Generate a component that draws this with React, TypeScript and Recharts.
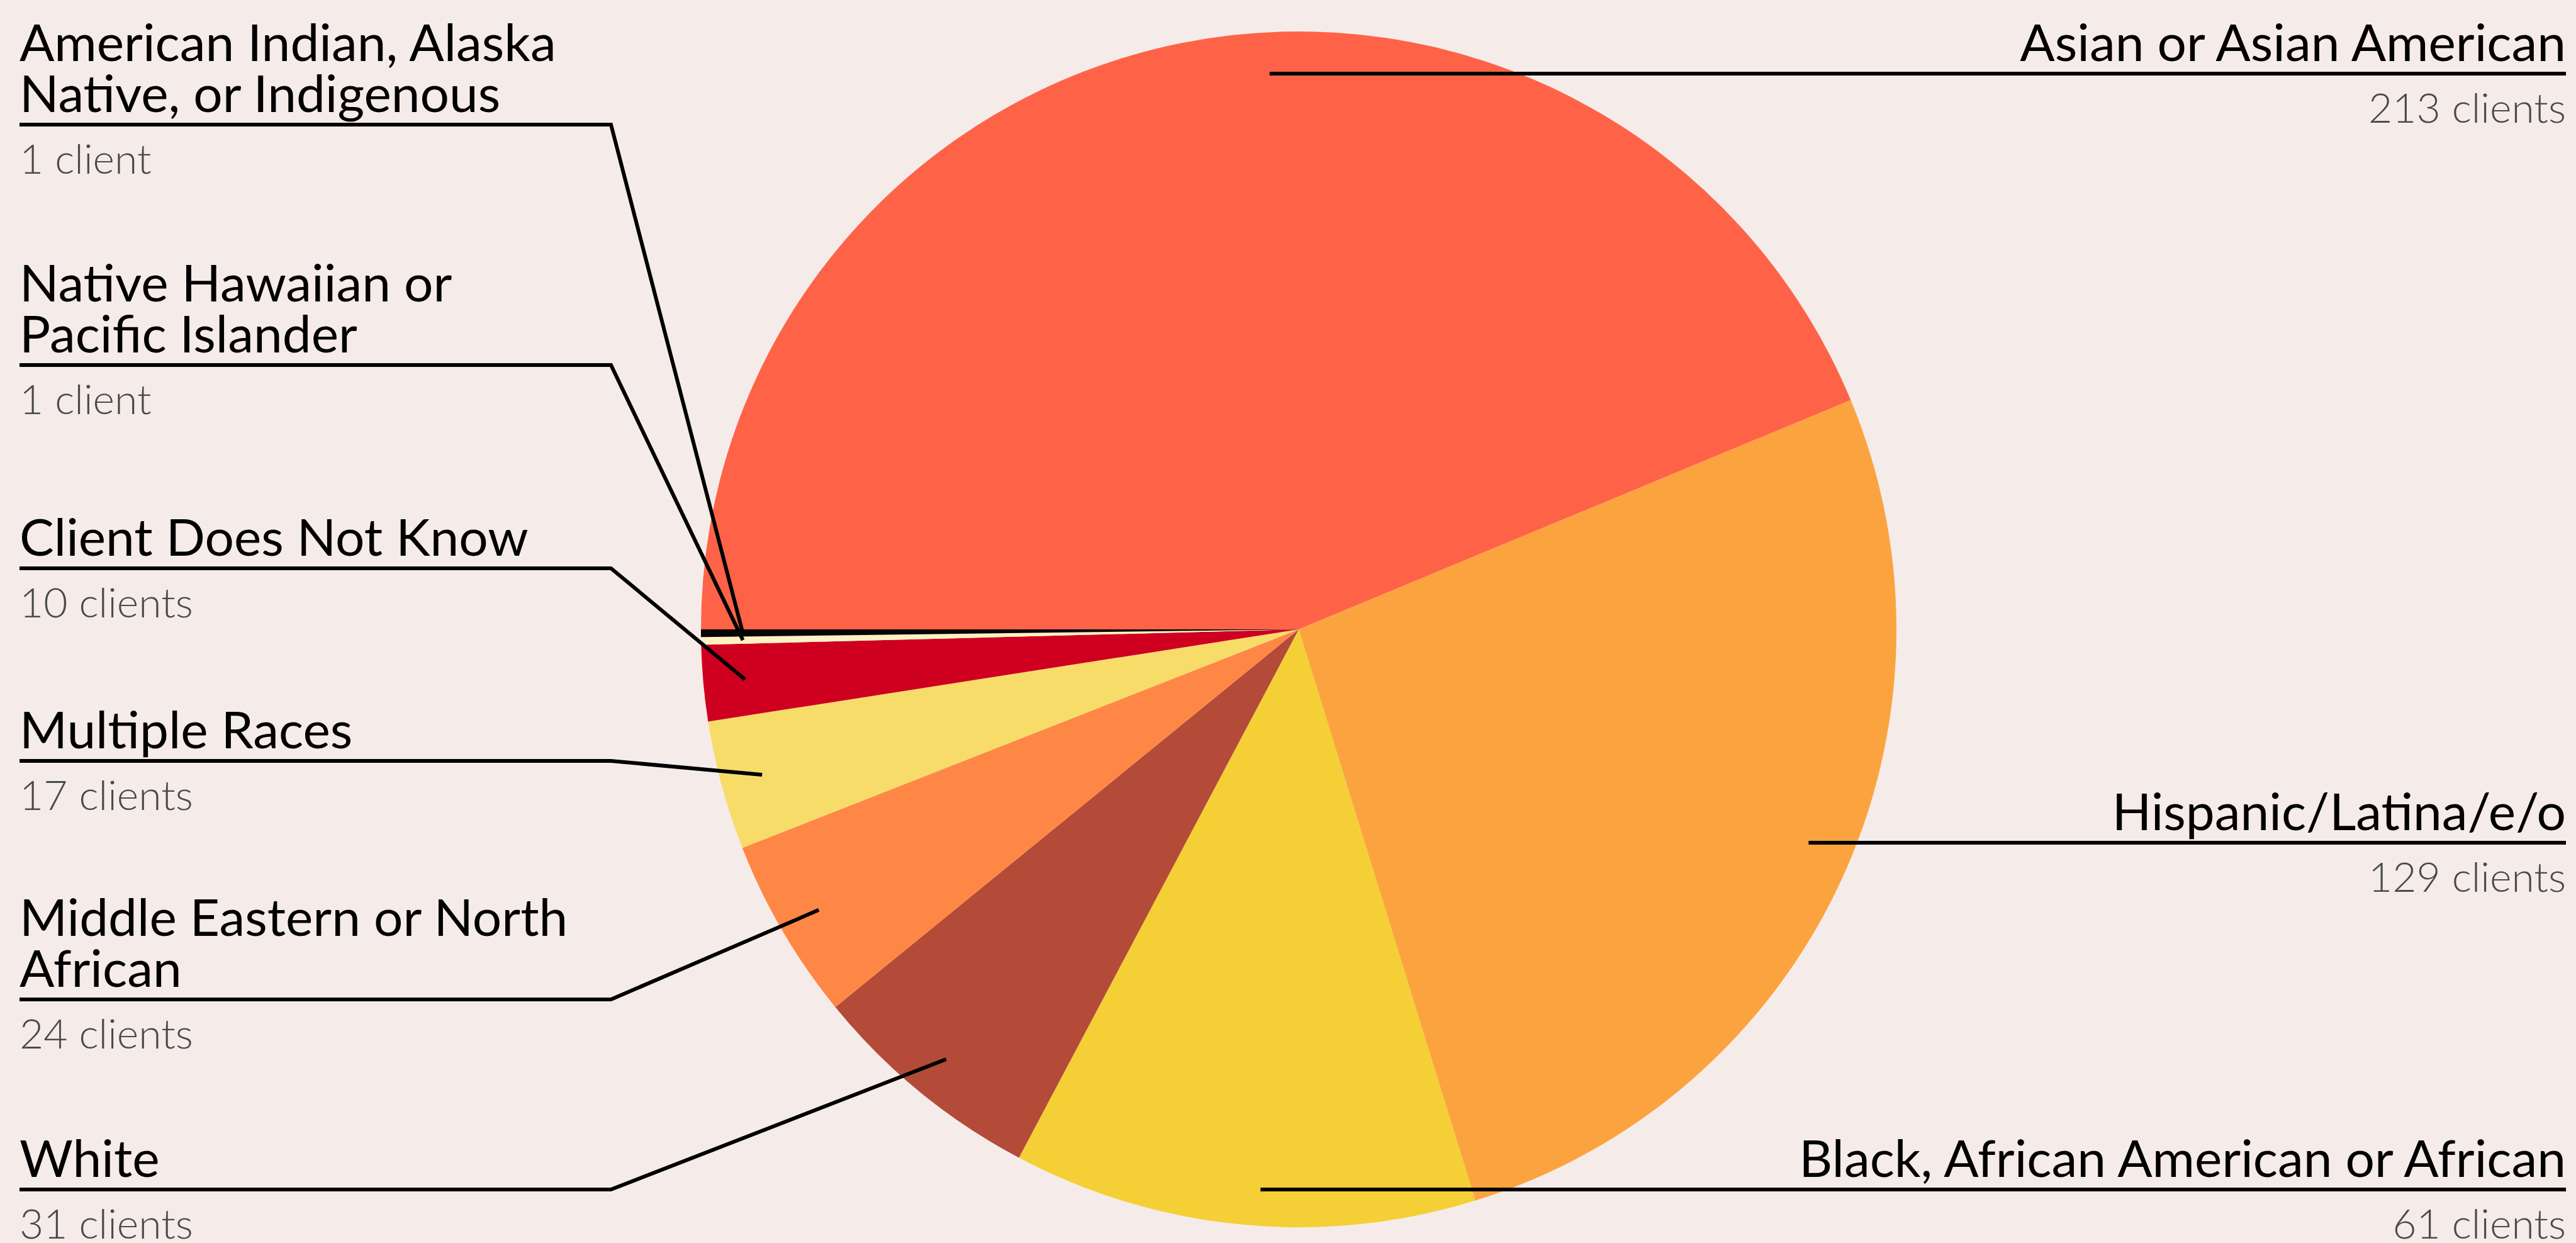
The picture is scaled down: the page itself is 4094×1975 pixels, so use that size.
import React from 'react';
import { Cell, Pie, PieChart } from 'recharts';

if (typeof document !== 'undefined') {
  document.body.style.margin = '0';
}

const WIDTH = 4094;
const HEIGHT = 1975;
const BG = '#F5ECEA';
const FONT = 'Lato, "Open Sans", sans-serif';

// data, in clockwise order starting at 9 o'clock
const GROUPS = [
  'Asian or Asian American',
  'Hispanic/Latina/e/o',
  'Black, African American or African',
  'White',
  'Middle Eastern or North African',
  'Multiple Races',
  'Client Does Not Know',
  'Native Hawaiian or Pacific Islander',
  'American Indian, Alaska Native, or Indigenous',
];
const CLIENTS = [213, 129, 61, 31, 24, 17, 10, 1, 1];
const COLORS = [
  '#FF6347',
  '#FBA43F',
  '#F5CF36',
  '#B34B38',
  '#FF8746',
  '#F7DC6A',
  '#CF001F',
  '#FFF1C4',
  '#050505',
];

// label layout (not data): wrapped title lines, side, underline y, right-side anchor angle
const TITLE_LINES = [
  ['Asian or Asian American'],
  ['Hispanic/Latina/e/o'],
  ['Black, African American or African'],
  ['White'],
  ['Middle Eastern or North', 'African'],
  ['Multiple Races'],
  ['Client Does Not Know'],
  ['Native Hawaiian or', 'Pacific Islander'],
  ['American Indian, Alaska', 'Native, or Indigenous'],
];
const LABEL_SIDE = ['right', 'right', 'right', 'left', 'left', 'left', 'left', 'left', 'left'];
const LINE_Y = [117, 1339, 1890, 1890, 1588, 1209, 903, 580, 198];
const ANCHOR_ANGLE = [93, -22.7, -93.9, 0, 0, 0, 0, 0, 0];

const data = GROUPS.map((name, i) => ({ name, value: CLIENTS[i] }));

const RAD = Math.PI / 180;
const LEFT_X = 31;
const LEFT_END = 971;
const RIGHT_X = 4078;
const TITLE_SIZE = 82;
const SUB_SIZE = 66;
const LINE_GAP = 81;

function renderLabel(props: any) {
  const { cx, cy, midAngle, outerRadius, index } = props;
  const side = LABEL_SIDE[index];
  const lineY = LINE_Y[index];
  const lines = TITLE_LINES[index];
  const n = CLIENTS[index];
  const sub = `${n} ${n === 1 ? 'client' : 'clients'}`;
  const r = outerRadius * 0.93;

  if (side === 'left') {
    const px = cx + r * Math.cos(-midAngle * RAD);
    const py = cy + r * Math.sin(-midAngle * RAD);
    return (
      <g key={`lbl-${index}`}>
        <polyline
          points={`${LEFT_X},${lineY} ${LEFT_END},${lineY} ${px},${py}`}
          fill="none"
          stroke="#000"
          strokeWidth={6}
        />
        {lines.map((t, j) => (
          <text
            key={j}
            x={LEFT_X}
            y={lineY - 20 - (lines.length - 1 - j) * LINE_GAP}
            fontFamily={FONT}
            fontSize={TITLE_SIZE}
            fill="#000"
          >
            {t}
          </text>
        ))}
        <text x={LEFT_X} y={lineY + 78} fontFamily={FONT} fontSize={SUB_SIZE} fontWeight={300} fill="#4a4a4a">
          {sub}
        </text>
      </g>
    );
  }

  const a = ANCHOR_ANGLE[index];
  const rr = (lineY - cy) / Math.sin(-a * RAD);
  const ax = cx + rr * Math.cos(-a * RAD);
  return (
    <g key={`lbl-${index}`}>
      <line x1={ax} y1={lineY} x2={RIGHT_X} y2={lineY} stroke="#000" strokeWidth={6} />
      {lines.map((t, j) => (
        <text
          key={j}
          x={RIGHT_X}
          y={lineY - 20 - (lines.length - 1 - j) * LINE_GAP}
          textAnchor="end"
          fontFamily={FONT}
          fontSize={TITLE_SIZE}
          fill="#000"
        >
          {t}
        </text>
      ))}
      <text
        x={RIGHT_X}
        y={lineY + 78}
        textAnchor="end"
        fontFamily={FONT}
        fontSize={SUB_SIZE}
        fontWeight={300}
        fill="#4a4a4a"
      >
        {sub}
      </text>
    </g>
  );
}

export default function App() {
  return (
    <div style={{ width: WIDTH, height: HEIGHT, background: BG, overflow: 'hidden' }}>
      <PieChart width={WIDTH} height={HEIGHT} margin={{ top: 0, right: 0, bottom: 0, left: 0 }}>
        <Pie
          data={data}
          dataKey="value"
          nameKey="name"
          cx={2064}
          cy={1000}
          outerRadius={950}
          startAngle={180}
          endAngle={-180}
          stroke="none"
          label={renderLabel}
          labelLine={false}
          isAnimationActive={false}
        >
          {data.map((d, i) => (
            <Cell key={d.name} fill={COLORS[i]} />
          ))}
        </Pie>
      </PieChart>
    </div>
  );
}
